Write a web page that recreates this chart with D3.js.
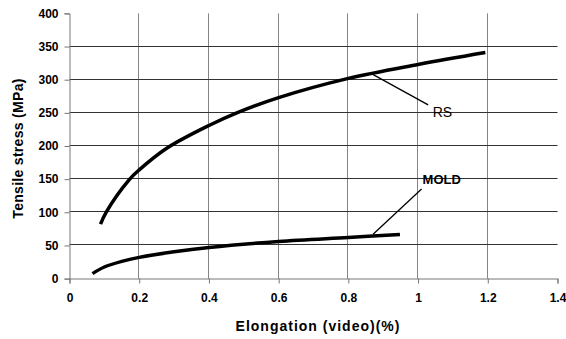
<!DOCTYPE html>
<html>
<head>
<meta charset="utf-8">
<script src="https://cdn.jsdelivr.net/npm/d3@7"></script>
<style>
  body { margin: 0; background: #fff; }
  svg text { font-family: Arial, "Liberation Sans", sans-serif; }
</style>
</head>
<body>
<div id="chart"></div>
<script>
  // tick labels
  var xTicks = [0, 0.2, 0.4, 0.6, 0.8, 1, 1.2, 1.4];
  var yTicks = [0, 50, 100, 150, 200, 250, 300, 350, 400];

  // RS series (elongation %, stress MPa)
  var rsX = [0.089, 0.105, 0.171, 0.2, 0.28, 0.4, 0.48, 0.6, 0.8, 1.0, 1.193];
  var rsY = [82, 100, 149, 164, 197, 231, 250, 273, 302, 323, 341];

  // MOLD series
  var moldX = [0.066, 0.1, 0.15, 0.2, 0.3, 0.4, 0.6, 0.8, 0.948];
  var moldY = [7.5, 17.5, 26, 32, 40.5, 47, 56, 62, 66.5];

  var width = 566, height = 339;
  var margin = { left: 69.5, right: 8.5, top: 13.4, bottom: 60.4 };

  var svg = d3.select('#chart').append('svg')
    .attr('width', width)
    .attr('height', height);

  var x = d3.scaleLinear().domain([0, 1.4]).range([margin.left, width - margin.right]);
  var y = d3.scaleLinear().domain([0, 400]).range([height - margin.bottom, margin.top]);

  // vertical grid (gray)
  svg.selectAll('.vgrid')
    .data(xTicks.filter(function(d) { return d > 0 && d < 1.4; }))
    .enter().append('line')
    .attr('x1', function(d) { return Math.round(x(d)) - 0.5; })
    .attr('x2', function(d) { return Math.round(x(d)) - 0.5; })
    .attr('y1', y(400))
    .attr('y2', y(0))
    .attr('stroke', '#858585')
    .attr('stroke-width', 1);

  // horizontal grid (dark)
  svg.selectAll('.hgrid')
    .data(yTicks.filter(function(d) { return d > 0 && d < 400; }))
    .enter().append('line')
    .attr('x1', x(0))
    .attr('x2', x(1.4))
    .attr('y1', function(d) { return Math.round(y(d)) - 0.5; })
    .attr('y2', function(d) { return Math.round(y(d)) - 0.5; })
    .attr('stroke', '#333')
    .attr('stroke-width', 1);

  // axes
  var xAxis = svg.append('g')
    .attr('transform', 'translate(0,' + (Math.round(y(0)) - 0.5) + ')')
    .call(d3.axisBottom(x).tickValues(xTicks).tickSize(5).tickPadding(10).tickFormat(d3.format('~g')));
  var yAxis = svg.append('g')
    .attr('transform', 'translate(' + x(0) + ',0)')
    .call(d3.axisLeft(y).tickValues(yTicks).tickSize(5).tickPadding(6));

  [xAxis, yAxis].forEach(function(g) {
    g.select('.domain').attr('stroke', '#777');
    g.selectAll('.tick line').attr('stroke', '#777');
    g.selectAll('.tick text')
      .attr('fill', '#000')
      .style('font-size', '12px')
      .style('font-weight', 'bold');
  });

  // curves
  var line = d3.line()
    .x(function(d) { return x(d[0]); })
    .y(function(d) { return y(d[1]); })
    .curve(d3.curveCatmullRom.alpha(0.5));

  svg.append('path')
    .datum(d3.zip(rsX, rsY))
    .attr('d', line)
    .attr('fill', 'none')
    .attr('stroke', '#000')
    .attr('stroke-width', 3.5);

  svg.append('path')
    .datum(d3.zip(moldX, moldY))
    .attr('d', line)
    .attr('fill', 'none')
    .attr('stroke', '#000')
    .attr('stroke-width', 3.5);

  // annotations
  svg.append('line')
    .attr('x1', x(0.870)).attr('y1', y(308))
    .attr('x2', x(1.029)).attr('y2', y(262))
    .attr('stroke', '#000').attr('stroke-width', 1.3);
  svg.append('text')
    .attr('x', x(1.042)).attr('y', y(243.7))
    .style('font-family', '"Liberation Sans Narrow", "Arial Narrow", Arial, sans-serif')
    .style('font-size', '14px')
    .text('RS');

  svg.append('line')
    .attr('x1', x(0.871)).attr('y1', y(67))
    .attr('x2', x(1.010)).attr('y2', y(135))
    .attr('stroke', '#000').attr('stroke-width', 1.3);
  svg.append('text')
    .attr('x', x(1.013)).attr('y', y(142.7))
    .style('font-size', '13px')
    .style('font-weight', 'bold')
    .text('MOLD');

  // axis titles
  svg.append('text')
    .attr('x', 318).attr('y', 331)
    .attr('text-anchor', 'middle')
    .style('font-size', '14px')
    .style('font-weight', 'bold')
    .style('letter-spacing', '1px')
    .text('Elongation (video)(%)');

  svg.append('text')
    .attr('transform', 'translate(23,148.5) rotate(-90)')
    .attr('text-anchor', 'middle')
    .style('font-size', '14px')
    .style('font-weight', 'bold')
    .style('letter-spacing', '0.3px')
    .text('Tensile stress (MPa)');
</script>
</body>
</html>
